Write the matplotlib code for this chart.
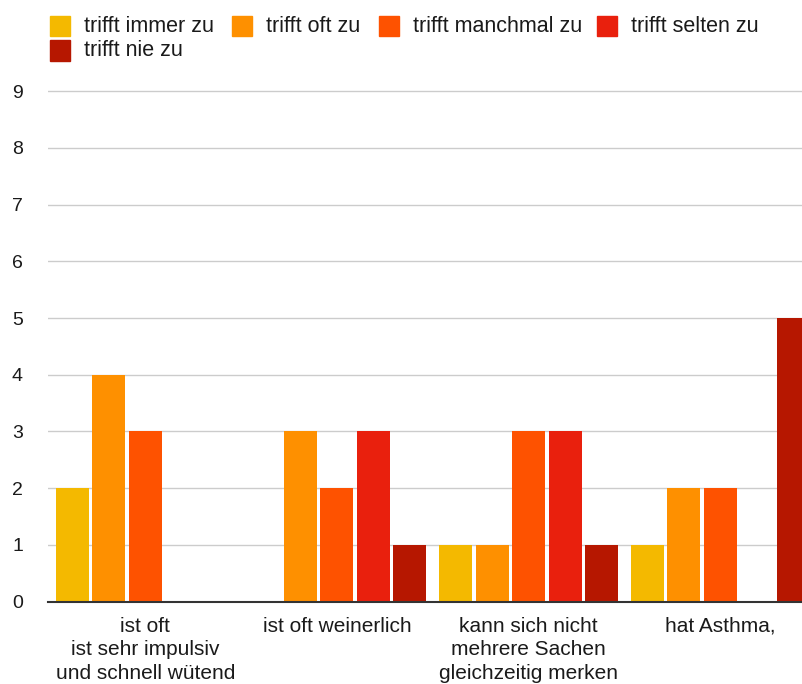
import matplotlib
matplotlib.use("Agg")
import matplotlib.pyplot as plt
from matplotlib.patches import Rectangle
import numpy as np

plt.rcParams['font.family'] = ['Liberation Sans', 'DejaVu Sans']

# Survey answers per statement
categories = [
    "ist oft\nist sehr impulsiv\nund schnell wütend",
    "ist oft weinerlich",
    "kann sich nicht\nmehrere Sachen\ngleichzeitig merken",
    "hat Asthma,",
]
series_names = ["trifft immer zu", "trifft oft zu", "trifft manchmal zu",
                "trifft selten zu", "trifft nie zu"]
immer = [2, 0, 1, 1]
oft = [4, 3, 1, 2]
manchmal = [3, 2, 3, 2]
selten = [0, 3, 3, 0]
nie = [0, 1, 1, 5]
series_values = [immer, oft, manchmal, selten, nie]
y_ticks = list(range(0, 10))

colors = ['#F4B900', '#FE9000', '#FE5200', '#E9200D', '#B61700']

W, H = 803, 684
fig = plt.figure(figsize=(W / 100, H / 100), dpi=100)

# plot area in pixels
px_left, px_right, px_zero = 48, 803, 601.7
px_per_unit = 56.74
y_top = 9.02
ax = fig.add_axes([px_left / W, 1 - px_zero / H,
                   (px_right - px_left) / W, y_top * px_per_unit / H])

x = np.arange(len(categories))
step = 0.1904
width = 0.172
for i, (vals, col) in enumerate(zip(series_values, colors)):
    ax.bar(x + (i - 2) * step, vals, width=width, color=col, zorder=3,
           label=series_names[i])

ax.set_xlim(-0.507, 3.431)
ax.set_ylim(0, y_top)
ax.set_yticks(y_ticks)
ax.set_yticklabels([str(v) for v in y_ticks], fontsize=14, color='#1a1a1a')
ax.set_xticks(x)
ax.set_xticklabels(categories, fontsize=15, color='#1a1a1a', linespacing=1.3)
ax.tick_params(axis='y', length=0, pad=18)
ax.tick_params(axis='x', length=0, pad=11)
ax.grid(axis='y', color='#cccccc', linewidth=1.0, zorder=0)
for s in ['left', 'right', 'top']:
    ax.spines[s].set_visible(False)
ax.spines['bottom'].set_color('#333333')
ax.spines['bottom'].set_linewidth(1.5)
ax.spines['bottom'].set_zorder(4)

# legend drawn in figure pixels, two rows
legend_slots = [(50, 26), (232, 26), (379, 26), (597, 26), (50, 50.5)]
for (lx, ly), name, col in zip(legend_slots, series_names, colors):
    fig.add_artist(Rectangle(((lx) / W, 1 - (ly + 10) / H), 20 / W, 20 / H,
                             transform=fig.transFigure, color=col))
    fig.text((lx + 34) / W, 1 - ly / H, name, fontsize=15.5, color='#1a1a1a',
             va='center', ha='left')

fig.savefig("out.png", dpi=100)
